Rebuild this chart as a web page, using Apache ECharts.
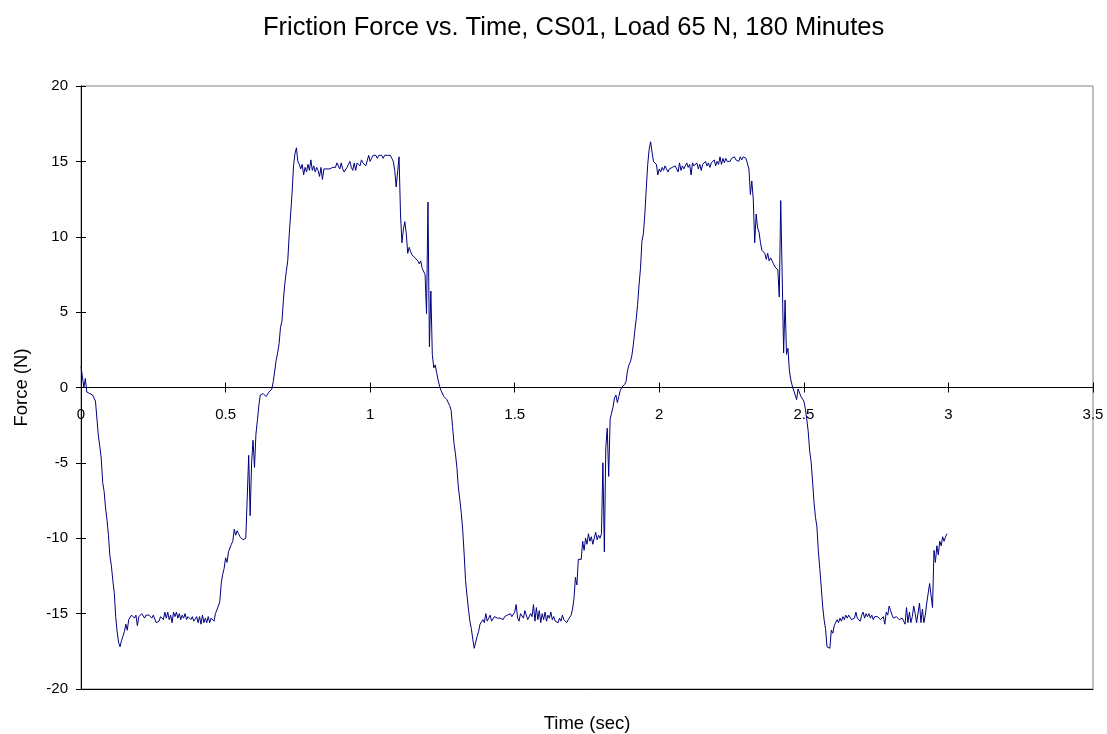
<!DOCTYPE html>
<html>
<head>
<meta charset="utf-8">
<script src="https://cdn.jsdelivr.net/npm/echarts@6/dist/echarts.min.js"></script>
<style>html,body{margin:0;padding:0;background:#fff;}#c{width:1107px;height:734px;}</style>
</head>
<body>
<div id="c"></div>
<script>
const titleText = 'Friction Force vs. Time, CS01, Load 65 N, 180 Minutes';
const xName = 'Time (sec)';
const yName = 'Force (N)';
const xMin = 0, xMax = 3.5, xInterval = 0.5;
const yMin = -20, yMax = 20, yInterval = 5;
const sampleStep = 0.005; // seconds between samples
const force = [
  1.4, 1.3, 0.0, 0.6, -0.3, -0.3, -0.4, -0.3, -0.5, -0.7, -0.9, -1.0, -3.2, -3.9, -4.7, -6.3, -6.9, -8.0, -8.8, -9.8,
  -11.2, -11.8, -12.8, -13.6, -15.2, -16.2, -16.9, -17.2, -16.8, -16.5, -16.2, -15.7, -16.1, -15.4, -15.5, -15.1, -15.1, -15.3, -15.1, -15.8,
  -15.2, -15.2, -15.0, -15.1, -15.3, -15.1, -15.0, -15.1, -15.0, -15.3, -15.1, -15.2, -15.6, -15.7, -15.5, -15.2, -15.1, -15.4, -14.9, -15.3,
  -14.9, -15.4, -15.1, -15.6, -14.9, -15.2, -14.9, -15.3, -15.0, -15.4, -15.1, -15.3, -15.0, -15.4, -15.2, -15.1, -15.4, -15.2, -15.5, -15.6,
  -15.2, -15.6, -15.2, -15.7, -15.1, -15.6, -15.3, -15.6, -15.2, -15.6, -15.3, -15.4, -15.5, -15.0, -15.0, -14.5, -14.2, -13.0, -12.4, -12.0,
  -11.3, -11.6, -10.9, -11.0, -10.4, -10.2, -9.4, -9.8, -9.5, -9.7, -9.9, -10.0, -10.1, -10.1, -10.0, -10.1, -4.5, -8.5, -5.0, -3.5,
  -5.3, -3.1, -2.2, -1.2, -0.5, -0.4, -0.4, -0.5, -0.6, -0.7, -0.3, -0.2, -0.1, 0.4, 1.1, 1.8, 2.3, 2.9, 4.0, 4.4,
  5.8, 6.9, 7.7, 8.4, 10.1, 11.5, 12.9, 14.7, 15.5, 15.9, 15.0, 14.8, 14.5, 14.8, 14.1, 14.6, 14.3, 14.8, 14.4, 15.1,
  14.4, 14.7, 14.3, 14.6, 14.4, 14.0, 14.6, 13.8, 14.5, 14.6, 14.5, 14.6, 14.5, 14.6, 14.6, 14.7, 14.6, 14.9, 14.9, 14.5,
  14.9, 14.5, 14.3, 14.4, 14.6, 14.8, 15.0, 14.6, 14.4, 14.9, 14.4, 14.9, 15.0, 14.7, 15.1, 14.9, 14.8, 14.7, 14.8, 15.4,
  15.0, 15.2, 15.4, 15.3, 15.4, 15.2, 15.4, 15.3, 15.4, 15.2, 15.4, 15.3, 15.4, 15.3, 15.4, 15.2, 15.0, 14.4, 13.3, 14.3,
  15.3, 11.5, 9.6, 10.5, 11.0, 10.2, 8.9, 9.3, 9.0, 8.8, 8.9, 8.6, 8.6, 8.4, 8.2, 8.4, 7.9, 8.0, 7.5, 4.9,
  12.3, 2.7, 6.4, 2.2, 1.3, 1.5, 1.0, 0.5, 0.1, -0.2, -0.3, -0.6, -0.5, -0.8, -0.9, -1.2, -1.5, -2.6, -3.7, -4.4,
  -5.3, -6.6, -7.4, -8.3, -9.4, -11.0, -12.8, -13.8, -14.7, -15.5, -16.0, -16.7, -17.3, -17.4, -16.5, -16.2, -15.7, -15.6, -15.4, -15.6,
  -15.0, -15.5, -15.3, -15.1, -15.5, -15.4, -15.2, -15.1, -15.3, -15.2, -15.3, -15.2, -15.4, -15.2, -15.3, -15.1, -15.2, -15.0, -15.2, -15.1,
  -14.9, -14.4, -15.3, -15.5, -15.0, -15.1, -15.3, -14.8, -14.7, -15.4, -15.5, -15.0, -15.2, -14.4, -15.5, -14.6, -15.4, -14.8, -15.6, -15.0,
  -15.4, -14.9, -15.5, -15.1, -15.3, -14.9, -15.4, -15.2, -15.5, -15.4, -15.6, -15.3, -15.5, -15.1, -15.4, -15.5, -15.6, -15.4, -15.3, -15.1,
  -14.7, -14.0, -12.6, -13.1, -11.4, -11.3, -11.4, -10.2, -10.8, -10.0, -10.4, -9.7, -10.2, -9.9, -10.4, -10.5, -9.6, -10.1, -9.8, -10.0,
  -9.7, -5.0, -10.9, -4.0, -2.7, -5.9, -2.1, -1.7, -1.3, -0.7, -0.5, -1.0, -0.6, -0.2, 0.0, -0.1, 0.2, 0.4, 1.1, 1.5,
  1.7, 2.1, 2.8, 3.7, 4.5, 5.5, 6.8, 7.9, 9.7, 10.2, 11.5, 13.2, 14.8, 15.8, 16.3, 15.6, 15.0, 15.1, 14.8, 14.1,
  14.5, 14.3, 14.6, 14.4, 14.7, 14.5, 14.3, 14.5, 14.4, 14.6, 14.5, 14.7, 14.5, 14.3, 14.9, 14.4, 14.7, 14.5, 14.7, 14.9,
  14.6, 14.8, 14.1, 14.9, 14.7, 14.8, 14.9, 14.5, 14.8, 14.4, 14.8, 14.7, 15.0, 14.7, 14.9, 14.6, 14.9, 14.8, 15.1, 14.7,
  15.0, 14.8, 15.3, 14.8, 15.2, 14.9, 15.2, 15.0, 15.1, 15.0, 15.2, 15.1, 15.3, 15.1, 15.2, 15.0, 15.3, 15.1, 15.3, 15.4,
  15.2, 15.3, 14.5, 12.8, 13.7, 12.5, 9.6, 11.5, 10.6, 10.3, 9.6, 9.1, 9.2, 8.9, 8.5, 8.9, 8.4, 8.6, 8.4, 8.2,
  8.0, 7.9, 7.8, 6.0, 12.4, 7.5, 2.3, 5.8, 2.2, 2.6, 1.1, 0.5, 0.1, 0.0, -0.5, -0.8, -0.1, 0.0, -0.6, -0.7,
  -0.9, -1.4, -2.1, -2.9, -4.2, -4.9, -6.2, -7.6, -8.6, -9.2, -10.8, -12.0, -13.2, -14.5, -15.4, -16.0, -17.2, -17.3, -17.3, -16.1,
  -16.3, -15.8, -15.9, -15.4, -15.6, -15.3, -15.5, -15.2, -15.4, -15.1, -15.3, -15.1, -15.2, -15.4, -15.5, -15.3, -14.9, -15.3, -15.2, -15.5,
  -15.1, -14.9, -15.3, -15.0, -15.2, -15.0, -15.3, -15.1, -15.4, -15.2, -15.3, -15.2, -15.3, -15.4, -15.3, -15.2, -15.7, -14.9, -15.1, -14.5,
  -14.8, -15.1, -15.3, -15.4, -15.2, -15.3, -15.4, -15.5, -15.3, -15.2, -15.7, -14.6, -15.6, -14.9, -15.6, -15.2, -14.5, -15.0, -15.6, -15.5,
  -14.3, -15.6, -14.7, -15.6, -15.1, -14.3, -14.4, -13.0, -13.1, -14.6, -10.8, -11.6, -10.5, -11.1, -10.2, -10.5, -9.9, -10.2, -9.9, -9.7
];

const seriesData = force.map((f, i) => [+(i * sampleStep).toFixed(3), f]);
const FONT = "'Liberation Sans', Arial, Helvetica, sans-serif";

const W = 1107, H = 734;
const gridL = 81, gridR = 14, gridT = 86, gridB = 45;
const plotH = H - gridT - gridB;
// the horizontal axis crosses the vertical one at force = 0
const zeroOffset = -plotH * (0 - yMin) / (yMax - yMin);

const chart = echarts.init(document.getElementById('c'), null, {renderer: 'canvas'});
chart.setOption({
  animation: false,
  backgroundColor: '#ffffff',
  title: {
    text: titleText,
    left: 258,
    top: 10,
    textStyle: {fontFamily: FONT, fontSize: 25.5, fontWeight: 'normal', color: '#000'}
  },
  grid: {
    left: gridL, right: gridR, top: gridT, bottom: gridB,
    containLabel: false, outerBoundsMode: 'none',
    show: true, borderColor: '#808080', borderWidth: 1, backgroundColor: 'transparent'
  },
  xAxis: [
    {
      type: 'value', min: xMin, max: xMax, interval: xInterval, position: 'bottom', offset: zeroOffset,
      axisLine: {show: true, onZero: false, lineStyle: {color: '#000', width: 1}},
      axisTick: {show: true, length: 5, lineStyle: {color: '#000', width: 1}},
      axisLabel: {show: true, margin: 20, fontSize: 15, color: '#000', fontFamily: FONT, showMinLabel: true, showMaxLabel: true},
      splitLine: {show: false}
    },
    {
      type: 'value', min: xMin, max: xMax, interval: xInterval, position: 'bottom', offset: zeroOffset,
      axisLine: {show: false, onZero: false},
      axisTick: {show: true, inside: true, length: 5, lineStyle: {color: '#000', width: 1}},
      axisLabel: {show: false},
      splitLine: {show: false}
    },
    {
      type: 'value', min: xMin, max: xMax, position: 'bottom',
      axisLine: {show: true, onZero: false, lineStyle: {color: '#000', width: 1}},
      axisTick: {show: false},
      axisLabel: {show: false},
      splitLine: {show: false},
      name: xName, nameLocation: 'middle', nameGap: 25,
      nameTextStyle: {fontFamily: FONT, fontSize: 18.5, color: '#000'}
    }
  ],
  yAxis: [
    {
      type: 'value', min: yMin, max: yMax, interval: yInterval,
      axisLine: {show: true, onZero: false, lineStyle: {color: '#000', width: 1}},
      axisTick: {show: true, length: 5, lineStyle: {color: '#000', width: 1}},
      axisLabel: {show: true, margin: 13, fontSize: 15, color: '#000', fontFamily: FONT},
      splitLine: {show: false},
      name: yName, nameLocation: 'middle', nameGap: 50, nameRotate: 90,
      nameTextStyle: {fontFamily: FONT, fontSize: 18.5, color: '#000'}
    },
    {
      type: 'value', min: yMin, max: yMax, interval: yInterval, position: 'left',
      axisLine: {show: false, onZero: false},
      axisTick: {show: true, inside: true, length: 5, lineStyle: {color: '#000', width: 1}},
      axisLabel: {show: false},
      splitLine: {show: false}
    }
  ],
  series: [{
    type: 'line',
    xAxisIndex: 0, yAxisIndex: 0,
    data: seriesData,
    showSymbol: false,
    symbol: 'none',
    lineStyle: {color: '#000080', width: 1},
    z: 5
  }]
});
</script>
</body>
</html>
